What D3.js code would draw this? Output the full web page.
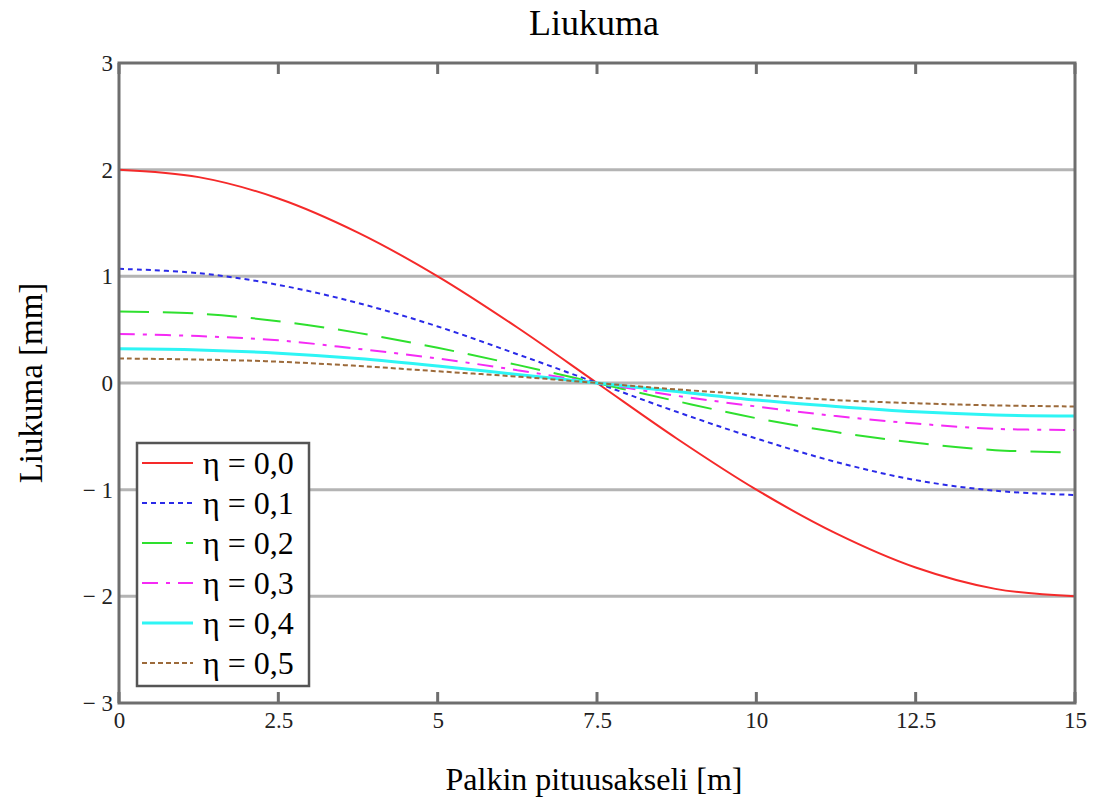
<!DOCTYPE html>
<html>
<head>
<meta charset="utf-8">
<script src="https://cdn.jsdelivr.net/npm/d3@7"></script>
<style>
  body { margin: 0; background: #fff; }
  text { font-family: "Liberation Serif", "Times New Roman", serif; }
</style>
</head>
<body>
<svg></svg>
<script>
var width = 1098;
var height = 800;
var margin = {top: 63, bottom: 97, left: 119, right: 23};

// x positions along the beam [m]
var xValues = [0, 1.25, 2.5, 3.75, 5, 6.25, 7.5, 8.75, 10, 11.25, 12.5, 13.75, 15];

// deflection per eta [mm]
var eta00 = [2.00, 1.93, 1.73, 1.41, 1.00, 0.52, 0, -0.52, -1.00, -1.41, -1.73, -1.93, -2.00];
var eta01 = [1.07, 1.03, 0.92, 0.75, 0.53, 0.27, 0, -0.27, -0.52, -0.74, -0.91, -1.01, -1.05];
var eta02 = [0.67, 0.65, 0.58, 0.47, 0.33, 0.17, 0, -0.17, -0.33, -0.46, -0.56, -0.63, -0.65];
var eta03 = [0.46, 0.44, 0.40, 0.32, 0.23, 0.12, 0, -0.12, -0.22, -0.31, -0.38, -0.43, -0.44];
var eta04 = [0.32, 0.31, 0.28, 0.23, 0.16, 0.08, 0, -0.08, -0.16, -0.22, -0.27, -0.30, -0.31];
var eta05 = [0.23, 0.22, 0.20, 0.16, 0.11, 0.06, 0, -0.06, -0.11, -0.16, -0.19, -0.21, -0.22];

var seriesNames = ["η = 0,0", "η = 0,1", "η = 0,2", "η = 0,3", "η = 0,4", "η = 0,5"];
var xTicks = [0, 2.5, 5, 7.5, 10, 12.5, 15];
var yTicks = [-3, -2, -1, 0, 1, 2, 3];

var styles = [
  {color: "#f52a2a", dash: null, w: 2},
  {color: "#2a2ae8", dash: "5,4", w: 2},
  {color: "#2ee02e", dash: "30,14", w: 2},
  {color: "#f52af5", dash: "16,8,4,8", w: 2},
  {color: "#2ef5f5", dash: null, w: 3},
  {color: "#9c6a3a", dash: "5,3", w: 2}
];

var allSeries = [eta00, eta01, eta02, eta03, eta04, eta05];

var svg = d3.select("svg").attr("width", width).attr("height", height);

var xScale = d3.scaleLinear().domain([0, 15]).range([margin.left, width - margin.right]);
var yScale = d3.scaleLinear().domain([-3, 3]).range([height - margin.bottom, margin.top]);

// gridlines
svg.append("g")
  .selectAll("line")
  .data(yTicks.filter(d => d > -3 && d < 3))
  .join("line")
  .attr("x1", xScale(0)).attr("x2", xScale(15))
  .attr("y1", d => yScale(d)).attr("y2", d => yScale(d))
  .attr("stroke", "#b4b4b4").attr("stroke-width", 3);

// curves
var line = d3.line()
  .x((d, i) => xScale(xValues[i]))
  .y(d => yScale(d))
  .curve(d3.curveCatmullRom);

allSeries.forEach(function(s, i) {
  svg.append("path")
    .attr("d", line(s))
    .attr("fill", "none")
    .attr("stroke", styles[i].color)
    .attr("stroke-width", styles[i].w)
    .attr("stroke-dasharray", styles[i].dash);
});

// frame
svg.append("rect")
  .attr("x", xScale(0)).attr("y", yScale(3))
  .attr("width", xScale(15) - xScale(0)).attr("height", yScale(-3) - yScale(3))
  .attr("fill", "none").attr("stroke", "#6e6e6e").attr("stroke-width", 3);

// axes
var fmtY = d => d < 0 ? "− " + Math.abs(d) : String(d);
var yAxis = d3.axisLeft(yScale).tickValues(yTicks).tickSize(0).tickPadding(4).tickFormat(fmtY);
var gy = svg.append("g").attr("transform", "translate(" + [xScale(0) - 2, 0] + ")").call(yAxis);
gy.select(".domain").remove();
gy.selectAll("text").attr("font-size", 23).attr("fill", "#222").attr("font-family", "Liberation Serif");

var xAxis = d3.axisBottom(xScale).tickValues(xTicks).tickSize(0).tickPadding(9).tickFormat(d => String(d));
var gx = svg.append("g").attr("transform", "translate(" + [0, yScale(-3)] + ")").call(xAxis);
gx.select(".domain").remove();
gx.selectAll("text").attr("font-size", 23).attr("fill", "#222").attr("font-family", "Liberation Serif");

// tick marks inside frame (bottom and top)
svg.append("g").selectAll("line")
  .data(xTicks)
  .join("line")
  .attr("x1", d => xScale(d)).attr("x2", d => xScale(d))
  .attr("y1", yScale(-3)).attr("y2", yScale(-3) - 11)
  .attr("stroke", "#6e6e6e").attr("stroke-width", 3);
svg.append("g").selectAll("line")
  .data(xTicks)
  .join("line")
  .attr("x1", d => xScale(d)).attr("x2", d => xScale(d))
  .attr("y1", yScale(3)).attr("y2", yScale(3) + 11)
  .attr("stroke", "#6e6e6e").attr("stroke-width", 3);

// titles
svg.append("text").attr("x", (xScale(0) + xScale(15)) / 2 - 3).attr("y", 35)
  .attr("text-anchor", "middle").attr("font-size", 36).text("Liukuma");
svg.append("text").attr("x", (xScale(0) + xScale(15)) / 2 - 3).attr("y", 790)
  .attr("text-anchor", "middle").attr("font-size", 32).text("Palkin pituusakseli [m]");
svg.append("text")
  .attr("transform", "translate(" + [42, yScale(0)] + ") rotate(-90)")
  .attr("text-anchor", "middle").attr("font-size", 33).text("Liukuma [mm]");

// legend
var legend = svg.append("g").attr("transform", "translate(137,443)");
legend.append("rect").attr("width", 172).attr("height", 243)
  .attr("fill", "#fff").attr("stroke", "#555").attr("stroke-width", 2.5);
seriesNames.forEach(function(name, i) {
  var y = 20 + i * 40;
  legend.append("line").attr("x1", 5).attr("x2", 56).attr("y1", y).attr("y2", y)
    .attr("stroke", styles[i].color).attr("stroke-width", styles[i].w)
    .attr("stroke-dasharray", styles[i].dash);
  legend.append("text").attr("x", 66).attr("y", y + 11).attr("font-size", 32).text(name);
});
</script>
</body>
</html>
